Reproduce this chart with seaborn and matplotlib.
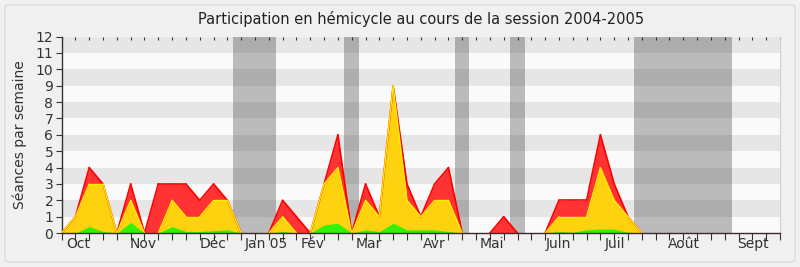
import matplotlib
matplotlib.use("Agg")
import matplotlib.pyplot as plt
import seaborn as sns
import pandas as pd
import numpy as np
from matplotlib.patches import FancyBboxPatch

# ---- data (weekly values, week index 0 = start of session) ----
weeks = list(range(0, 43))
total = [0, 1, 4, 3, 0, 3, 0, 3, 3, 3, 2, 3, 2, 0, 0, 0, 2, 1, 0, 3, 6,
         0, 3, 1, 9, 3, 1, 3, 4, 0, 0, 0, 1, 0, 0, 0, 2, 2, 2, 6, 3, 1, 0]
yellow = [0, 1, 3, 3, 0, 2, 0, 0, 2, 1, 1, 2, 2, 0, 0, 0, 1, 0, 0, 3, 4,
          0, 2, 1, 9, 2, 1, 2, 2, 0, 0, 0, 0, 0, 0, 0, 1, 1, 1, 4, 2, 1, 0]
green = [0, 0, 0.4, 0.1, 0, 0.65, 0, 0, 0.4, 0.1, 0.1, 0.15, 0.2, 0, 0, 0,
         0.1, 0, 0, 0.5, 0.6, 0, 0.2, 0.1, 0.6, 0.2, 0.2, 0.2, 0.1, 0, 0, 0,
         0, 0, 0, 0, 0.1, 0.05, 0.2, 0.25, 0.25, 0.05, 0]

# recess periods (in weeks)
recess_start = [12.4, 20.44, 28.49, 32.46, 41.44]
recess_end = [15.52, 21.53, 29.49, 33.55, 48.53]

month_labels = ["Oct", "Nov", "Déc", "Jan 05", "Fév", "Mar", "Avr", "Mai",
                "Juin", "Juil", "Août", "Sept"]
month_pos = [1.18, 5.89, 10.95, 14.79, 18.2, 22.25, 26.96, 31.16, 35.94,
             40.07, 45.06, 50.06]

df = pd.DataFrame({"week": weeks, "total": total, "yellow": yellow, "green": green})


def edge_segments(xs, vals):
    """Split the edge line into runs, leaving out flat zero stretches."""
    rows = []
    seg = 0
    n = len(vals)
    for i in range(n - 1):
        if vals[i] == 0 and vals[i + 1] == 0:
            continue
        rows.append({"week": xs[i], "v": vals[i], "seg": i})
        rows.append({"week": xs[i + 1], "v": vals[i + 1], "seg": i})
    return pd.DataFrame(rows)


tot_edges = edge_segments(weeks, total)
yel_edges = edge_segments(weeks, yellow)

sns.set_theme(style="white")
plt.rcParams['font.family'] = ['DejaVu Sans']

fig = plt.figure(figsize=(8, 2.67), dpi=100)
fig.patch.set_facecolor("#f0f0f0")
fig.patches.append(FancyBboxPatch((0.006, 0.018), 0.988, 0.964,
                                  boxstyle="round,pad=0,rounding_size=0.01",
                                  transform=fig.transFigure, facecolor="none",
                                  edgecolor="#dcdcdc", linewidth=1.0))

ax = fig.add_axes([0.077, 0.127, 0.898, 0.736])
ax.set_facecolor("#fafafa")

# stripes
for lo in range(1, 12, 2):
    ax.axhspan(lo, lo + 1, color="#e6e6e6", zorder=0, lw=0)

# recess bands
for s, e in zip(recess_start, recess_end):
    ax.axvspan(s, e, color="#2b2b2b", alpha=0.3, zorder=1, lw=0)

# stacked areas
ax.fill_between(df["week"], 0, df["total"], color="#ff3333", zorder=2, lw=0)
ax.fill_between(df["week"], 0, df["yellow"], color="#ffd20f", zorder=3, lw=0)
ax.fill_between(df["week"], 0, df["green"], color="#33f20a", zorder=4, lw=0)
sns.lineplot(data=tot_edges, x="week", y="v", units="seg", estimator=None,
             color="#ff0000", lw=1.2, ax=ax, zorder=5, sort=False)
sns.lineplot(data=yel_edges, x="week", y="v", units="seg", estimator=None,
             color="#ffee00", lw=1.0, ax=ax, zorder=5, sort=False)

ax.set_xlim(0, 52)
ax.set_ylim(0, 12)

# ticks
ax.set_xticks(month_pos)
ax.set_xticklabels(month_labels, fontsize=10, color="#333333")
ax.set_xticks(np.arange(0, 53), minor=True)
ax.tick_params(axis="x", which="major", length=0, pad=3)
ax.tick_params(axis="x", which="minor", length=5, width=0.8, color="#333333",
               direction="out", bottom=True)
ax.set_yticks(range(0, 13))
ax.set_yticklabels([str(i) for i in range(0, 13)], fontsize=10, color="#333333")
ax.tick_params(axis="y", which="major", length=4, width=0.8, color="#333333",
               direction="out", left=True, pad=2)

sec = ax.secondary_xaxis("top")
sec.set_xticks(np.arange(0, 53), minor=True)
sec.set_xticks([])
sec.tick_params(which="minor", direction="in", length=2, width=0.8, color="#333333")
sec.spines["top"].set_visible(False)

ax.spines["top"].set_visible(False)
ax.spines["right"].set_color("#cfcfcf")
ax.spines["right"].set_linewidth(0.8)
ax.spines["bottom"].set_color("#3a2a2a")
ax.spines["left"].set_color("#333333")
ax.spines["bottom"].set_linewidth(1.0)
ax.spines["left"].set_linewidth(1.0)
ax.spines["bottom"].set_zorder(10)

ax.set_xlabel("")
ax.set_ylabel("Séances par semaine", fontsize=10, color="#333333", labelpad=6)
ax.set_title("Participation en hémicycle au cours de la session 2004-2005",
             fontsize=10.5, color="#222222", pad=9)

fig.savefig("out.png", dpi=100, facecolor=fig.get_facecolor())
